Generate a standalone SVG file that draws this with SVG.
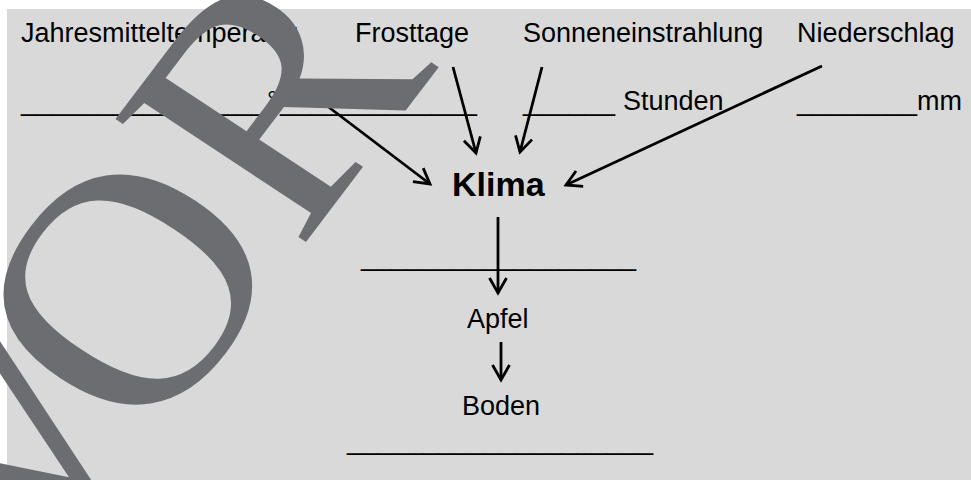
<svg xmlns="http://www.w3.org/2000/svg" width="971" height="480" viewBox="0 0 971 480">
<defs>
<style>
.t{font-family:"Liberation Sans",Arial,sans-serif;font-size:27px;fill:#000}
.b{font-family:"Liberation Sans",Arial,sans-serif;font-size:34px;font-weight:bold;fill:#000}
.u{font-family:"Liberation Sans",Arial,sans-serif;font-size:27px;fill:#000}
.c{fill:none;stroke:#000;stroke-width:2.8}
.wm{font-family:"Liberation Serif","Times New Roman",serif;font-size:360px;fill:#6c6d70;font-kerning:none}
</style>
<marker id="ah" markerUnits="userSpaceOnUse" viewBox="-18 -11 20 22" markerWidth="20" markerHeight="22" refX="0" refY="0" orient="auto" overflow="visible">
<path d="M-15,-8.5 L0,0 L-15,8.5" fill="none" stroke="#000" stroke-width="2.8"/>
</marker>
</defs>
<rect x="7" y="9" width="964" height="471" fill="#d9d9d9"/>
<g id="jahresmitteltemperatur">
<text class="t" x="21" y="42">Jahresmitteltemperatur</text>
<text class="u" x="21" y="110" textLength="245" lengthAdjust="spacingAndGlyphs">________________</text>
<text class="t" x="267" y="110">°</text>
<text class="u" x="280" y="110" textLength="197" lengthAdjust="spacingAndGlyphs">_____________</text>
</g>
<g id="frosttage">
<text class="t" x="355" y="42">Frosttage</text>
</g>
<g id="sonneneinstrahlung">
<text class="t" x="523" y="42">Sonneneinstrahlung</text>
<text class="u" x="523" y="110" textLength="92" lengthAdjust="spacingAndGlyphs">______</text>
<text class="t" x="623" y="110">Stunden</text>
</g>
<g id="niederschlag">
<text class="t" x="797" y="42">Niederschlag</text>
<text class="u" x="797" y="110" textLength="120" lengthAdjust="spacingAndGlyphs">________</text>
<text class="t" x="917" y="110">mm</text>
</g>
<g id="klima">
<text class="b" x="452" y="196">Klima</text>
<text class="u" x="361" y="265" textLength="275" lengthAdjust="spacingAndGlyphs">__________________</text>
</g>
<g id="apfel">
<text class="t" x="467" y="328">Apfel</text>
</g>
<g id="boden">
<text class="t" x="462" y="415">Boden</text>
<text class="u" x="347" y="449" textLength="306" lengthAdjust="spacingAndGlyphs">____________________</text>
</g>
<g id="connectors">
<line class="c" x1="289" y1="77" x2="430" y2="184" marker-end="url(#ah)"/>
<line class="c" x1="453" y1="67" x2="476" y2="153" marker-end="url(#ah)"/>
<line class="c" x1="542" y1="67" x2="520" y2="152" marker-end="url(#ah)"/>
<line class="c" x1="822" y1="66" x2="566" y2="185" marker-end="url(#ah)"/>
<line class="c" x1="498" y1="217" x2="498" y2="293" marker-end="url(#ah)"/>
<line class="c" x1="501" y1="342" x2="501" y2="380" marker-end="url(#ah)"/>
</g>
<g id="watermark" transform="matrix(0.585 -0.7705 0.8025 0.5294 298.5 251.8)">
<text class="wm" y="0"><tspan x="-465">V</tspan><tspan x="-259.9">OR</tspan></text>
</g>
</svg>
